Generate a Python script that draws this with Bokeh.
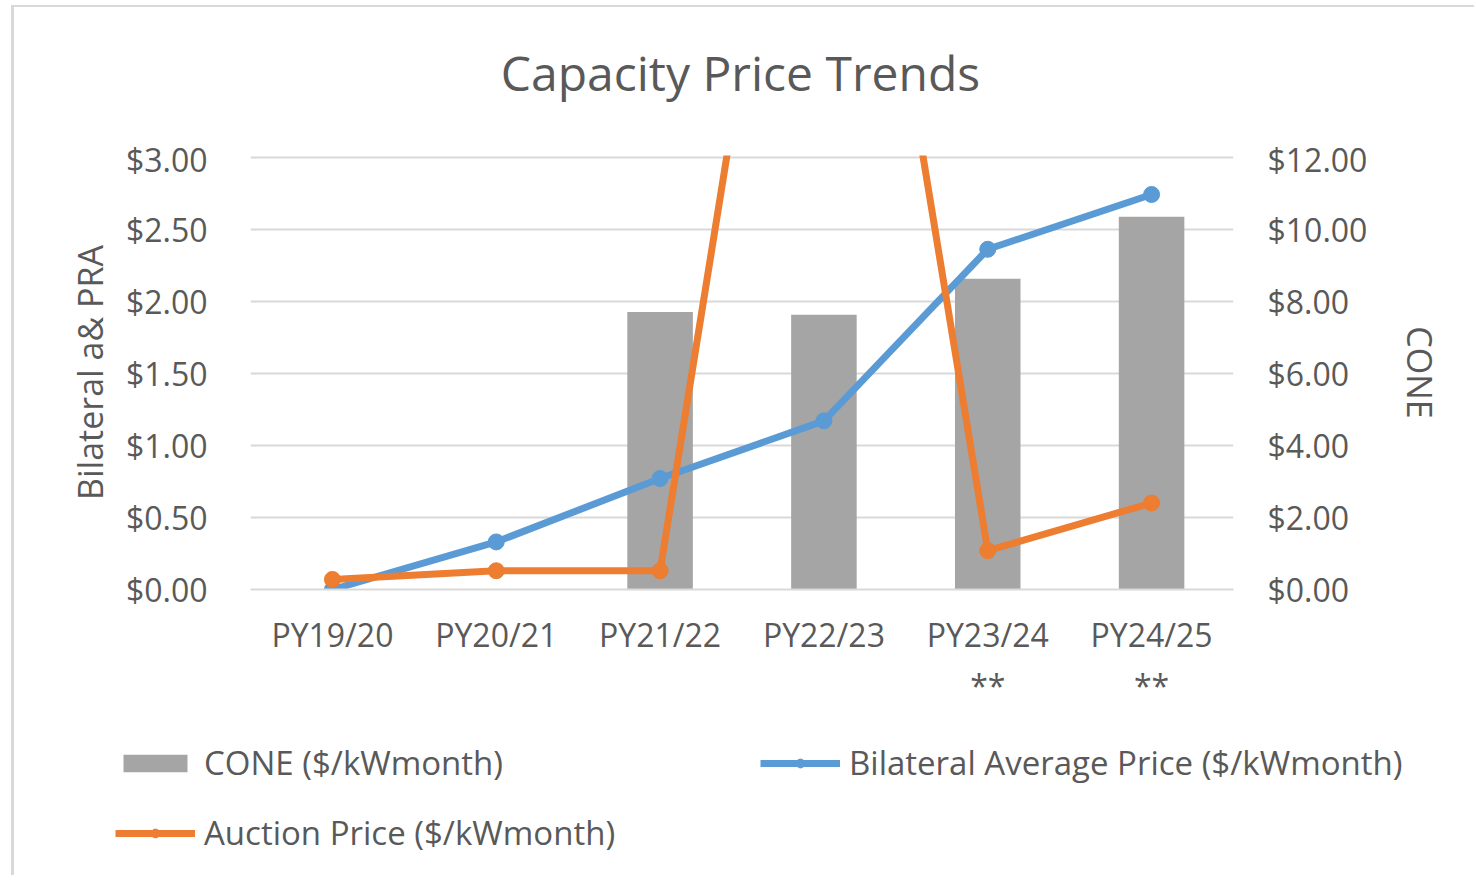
from bokeh.plotting import figure
from bokeh.layouts import column
from bokeh.models import (Range1d, LinearAxis, FixedTicker, NumeralTickFormatter,
                          Legend, LegendItem, FactorRange)
from bokeh.core.properties import value
from bokeh.embed import file_html
from bokeh.resources import INLINE
import numpy as np

title_text = "Capacity Price Trends"
categories = ["PY19/20", "PY20/21", "PY21/22", "PY22/23", "PY23/24\n**", "PY24/25\n**"]
cone = [np.nan, np.nan, 7.70, 7.62, 8.62, 10.34]
bilateral = [0.00, 0.33, 0.77, 1.17, 2.36, 2.74]
auction = [0.07, 0.13, 0.13, 7.19, 0.27, 0.60]
left_ticks = [0, 0.5, 1.0, 1.5, 2.0, 2.5, 3.0]
right_ticks = [0, 2, 4, 6, 8, 10, 12]
legend_labels = ["CONE ($/kWmonth)", "Bilateral Average Price ($/kWmonth)",
                 "Auction Price ($/kWmonth)"]

TXT = "#595959"
FONT = "Open Sans"
GRAY, BLUE, ORANGE = "#a5a5a5", "#5b9bd5", "#ed7d31"
BORDER = "#d9d9d9"
W = 1460
HT, H, HL = 130, 573, 165
TOP_PAD = 1.0035  # small headroom so the top gridline is not clipped


def bare(fig):
    fig.outline_line_color = None
    fig.axis.visible = False
    fig.grid.grid_line_color = None
    fig.frame_align = False
    return fig


# ---- title strip ----
tf = bare(figure(width=W, height=HT, x_range=Range1d(0, W), y_range=Range1d(0, HT),
                 output_backend="svg", toolbar_location=None, min_border=0))
tf.text(x=[726], y=[65], text=[title_text], text_align="center", text_baseline="alphabetic",
        text_font=value(FONT), text_font_size="48px", text_color=TXT)

# ---- main chart ----
p = figure(width=W, height=H, x_range=FactorRange(*categories),
           y_range=Range1d(0, left_ticks[-1] * TOP_PAD),
           output_backend="svg", toolbar_location=None,
           min_border_left=236, min_border_right=W - 1219,
           min_border_top=18, min_border_bottom=H - 452)
p.frame_align = False
p.extra_y_ranges = {"cone": Range1d(0, right_ticks[-1] * TOP_PAD)}
p.outline_line_color = None

p.vbar(x=categories, top=cone, width=0.4, y_range_name="cone",
       fill_color=GRAY, line_color=None)
p.line(categories, bilateral, line_width=7, color=BLUE)
p.scatter(categories, bilateral, size=16, color=BLUE)
p.line(categories, auction, line_width=7, color=ORANGE)
p.scatter(categories, auction, size=16, color=ORANGE)

p.xgrid.grid_line_color = None
p.ygrid.ticker = FixedTicker(ticks=left_ticks)
p.ygrid.grid_line_color = BORDER
p.ygrid.grid_line_width = 2


def style_axis(ax, size="32px"):
    ax.major_label_text_font = FONT
    ax.major_label_text_font_size = size
    ax.major_label_text_color = TXT
    ax.axis_label_text_font = FONT
    ax.axis_label_text_font_size = "34px"
    ax.axis_label_text_font_style = "normal"
    ax.axis_label_text_color = TXT
    ax.major_tick_line_color = None
    ax.minor_tick_line_color = None


ly = p.yaxis[0]
ly.ticker = FixedTicker(ticks=left_ticks)
ly.formatter = NumeralTickFormatter(format="$0.00")
ly.axis_label = "Bilateral a& PRA"
ly.axis_line_color = None
ly.major_label_standoff = 37
ly.axis_label_standoff = 10
style_axis(ly)

ry = LinearAxis(y_range_name="cone", ticker=FixedTicker(ticks=right_ticks),
                formatter=NumeralTickFormatter(format="$0.00"), axis_label="CONE")
ry.axis_line_color = None
ry.major_label_standoff = 28
ry.axis_label_standoff = 27
style_axis(ry)
p.add_layout(ry, "right")

xa = p.xaxis[0]
xa.axis_line_color = BORDER
xa.axis_line_width = 2
xa.major_label_standoff = 17
style_axis(xa)

# ---- legend strip ----
lf = bare(figure(width=W, height=HL, x_range=Range1d(0, 1), y_range=Range1d(0, 1),
                 output_backend="svg", toolbar_location=None, min_border=0))
r_bar = lf.vbar(x=[-5], top=[-5], width=0.4, fill_color=GRAY, line_color=None)
r_bl = lf.line([-6, -5], [-5, -5], line_width=7, color=BLUE)
r_bs = lf.scatter([-5], [-5], size=16, color=BLUE)
r_al = lf.line([-6, -5], [-5, -5], line_width=7, color=ORANGE)
r_as = lf.scatter([-5], [-5], size=16, color=ORANGE)

# column-major fill: CONE, Auction in column 1; Bilateral in column 2
legend = Legend(items=[
    LegendItem(label=legend_labels[0], renderers=[r_bar]),
    LegendItem(label=legend_labels[2], renderers=[r_al, r_as]),
    LegendItem(label=legend_labels[1], renderers=[r_bl, r_bs]),
], ncols=2, location=(101, 20))
legend.glyph_width = 80
legend.glyph_height = 22
legend.label_standoff = 9
legend.label_width = 531
legend.padding = 0
legend.margin = 0
legend.spacing = 25
legend.label_text_font = FONT
legend.label_text_font_size = "33px"
legend.label_text_color = TXT
legend.border_line_color = None
legend.background_fill_alpha = 0
lf.add_layout(legend)

layout = column(tf, p, lf, spacing=0,
                styles={"border-left": f"3px solid {BORDER}", "border-top": f"2px solid {BORDER}",
                        "margin-left": "11px", "margin-top": "5px"})

open("out.html", "w").write(file_html(layout, INLINE))
